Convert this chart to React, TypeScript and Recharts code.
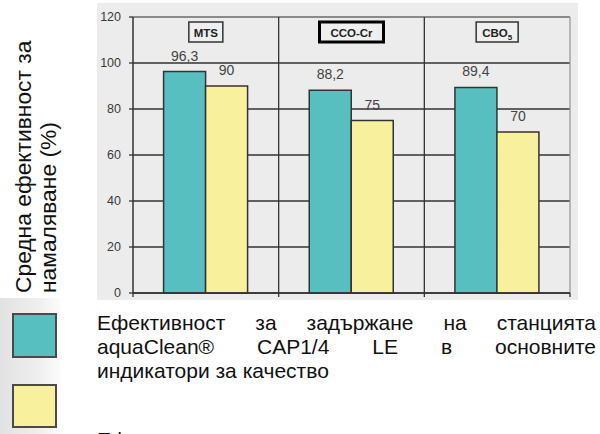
import React from 'react';
import {
  BarChart,
  Bar,
  XAxis,
  YAxis,
  CartesianGrid,
  LabelList,
  ReferenceLine,
} from 'recharts';

// values
const categories = ['MTS', 'CCO-Cr', 'CBO5'];
const stationValues = [96.3, 88.2, 89.4];
const standardValues = [90, 75, 70];
const yTicks = [0, 20, 40, 60, 80, 100, 120];

const titleLines = ['Средна ефективност за', 'намаляване (%)'];
const legendStationLines = [
  'Ефективност за задържане на станцията',
  'aquaClean® CAP1/4 LE в основните',
  'индикатори за качество',
];
const legendStandardLines = ['Ефективност за пречистване според изискванията на УТВА'];

const data = categories.map((name, i) => ({
  name,
  station: stationValues[i],
  standard: standardValues[i],
}));

const TEAL = '#57bfbf';
const YELLOW = '#f8f09c';
const FONT = '"Liberation Sans", Arial, sans-serif';

const fmt = (v: any) => String(v).replace('.', ',');

// boxed category names at the top of each panel
const CategoryTick = (props: any) => {
  const { x, y, payload } = props;
  const name: string = payload.value;
  const strong = name === 'CCO-Cr';
  const w = name === 'MTS' ? 34 : name === 'CCO-Cr' ? 64 : 42;
  return (
    <g>
      <rect
        x={x - w / 2}
        y={y + 5}
        width={w}
        height={20}
        fill='#efefef'
        stroke={strong ? '#000' : '#333'}
        strokeWidth={strong ? 3 : 1.5}
      />
      <text
        x={x}
        y={y + 19.5}
        textAnchor='middle'
        fontSize={11.5}
        fontWeight='bold'
        fill='#222'
        fontFamily={FONT}
      >
        {name === 'CBO5' ? (
          <>
            CBO<tspan fontSize={8} dy={3}>5</tspan>
          </>
        ) : (
          name
        )}
      </text>
    </g>
  );
};

// tick marks sit on the category borders, not the centres
const BoundaryTick = (props: any) => {
  const { x, y, payload, index, visibleTicksCount } = props;
  const half = payload && payload.offset ? payload.offset : 0;
  const last = index === visibleTicksCount - 1;
  return (
    <g stroke='#333' strokeWidth={1.3}>
      <line x1={x - half} x2={x - half} y1={y} y2={y + 4} />
      {last && <line x1={x + half} x2={x + half} y1={y} y2={y + 4} />}
    </g>
  );
};

const justified = (last: boolean): React.CSSProperties => ({
  textAlign: last ? 'left' : 'justify',
  textAlignLast: last ? 'left' : 'justify',
  whiteSpace: 'nowrap',
});

export default function App() {
  return (
    <div
      style={{
        position: 'absolute',
        left: 0,
        top: 0,
        width: 600,
        height: 434,
        overflow: 'hidden',
        background: '#fff',
        fontFamily: FONT,
        color: '#111',
      }}
    >
      <div
        style={{
          position: 'absolute',
          left: 11,
          top: 293,
          width: 270,
          fontSize: 22.8,
          lineHeight: '25px',
          transform: 'rotate(-90deg)',
          transformOrigin: '0 0',
          whiteSpace: 'nowrap',
        }}
      >
        {titleLines.map((t) => (
          <div key={t}>{t}</div>
        ))}
      </div>

      <div style={{ position: 'absolute', left: 97, top: 3, background: '#ececec' }}>
        <BarChart
          width={481}
          height={297}
          data={data}
          margin={{ top: 13, right: 8, left: 0, bottom: 0 }}
          barGap={0}
          barCategoryGap='21%'
        >
          <CartesianGrid vertical={false} stroke='#333' strokeWidth={1.3} />
          <XAxis
            dataKey='name'
            height={7}
            interval={0}
            tickLine={false}
            tickSize={0}
            tickMargin={0}
            axisLine={{ stroke: '#333', strokeWidth: 1.5 }}
            tick={<BoundaryTick />}
          />
          <XAxis
            xAxisId='top'
            dataKey='name'
            orientation='top'
            height={1}
            axisLine={false}
            tickLine={false}
            tickSize={0}
            tickMargin={0}
            interval={0}
            tick={<CategoryTick />}
          />
          <YAxis
            domain={[0, 120]}
            ticks={yTicks}
            interval={0}
            width={36}
            tickSize={4}
            tickMargin={8}
            axisLine={{ stroke: '#333', strokeWidth: 1.5 }}
            tickLine={{ stroke: '#333', strokeWidth: 1.3 }}
            tick={{ fill: '#3a3a3a', fontSize: 12.5, fontFamily: FONT }}
          />
          <ReferenceLine y={120} stroke='#999' strokeWidth={1.3} />
          {categories.map((c, i) => (
            <ReferenceLine
              key={c}
              x={c}
              position='end'
              stroke={i === categories.length - 1 ? '#999' : '#333'}
              strokeWidth={1.3}
            />
          ))}
          <Bar
            dataKey='station'
            fill={TEAL}
            stroke='#333'
            strokeWidth={1.5}
            isAnimationActive={false}
          >
            <LabelList
              dataKey='station'
              position='top'
              offset={11}
              formatter={fmt}
              fill='#444'
              fontSize={14}
              fontFamily={FONT}
            />
          </Bar>
          <Bar
            dataKey='standard'
            fill={YELLOW}
            stroke='#333'
            strokeWidth={1.5}
            isAnimationActive={false}
          >
            <LabelList
              dataKey='standard'
              position='top'
              offset={11}
              formatter={fmt}
              fill='#444'
              fontSize={14}
              fontFamily={FONT}
            />
          </Bar>
        </BarChart>
      </div>

      <div
        style={{
          position: 'absolute',
          left: 0,
          top: 298,
          width: 64,
          height: 136,
          background: 'linear-gradient(to right, #e2e2e2, #f0f0f0 65%, #ffffff)',
        }}
      />
      <div
        style={{
          position: 'absolute',
          left: 12,
          top: 313,
          width: 41,
          height: 41,
          background: TEAL,
          border: '2px solid #4a4a4a',
        }}
      />
      <div
        style={{
          position: 'absolute',
          left: 12,
          top: 384,
          width: 41,
          height: 40,
          background: YELLOW,
          border: '2px solid #4a4a4a',
        }}
      />

      <div
        style={{
          position: 'absolute',
          left: 97,
          top: 311,
          width: 499,
          fontSize: 21,
          lineHeight: '24px',
        }}
      >
        {legendStationLines.map((t, i) => (
          <div key={t} style={justified(i === legendStationLines.length - 1)}>
            {t}
          </div>
        ))}
      </div>
      <div
        style={{
          position: 'absolute',
          left: 97,
          top: 428,
          width: 499,
          fontSize: 21,
          lineHeight: '24px',
        }}
      >
        {legendStandardLines.map((t) => (
          <div key={t} style={justified(false)}>
            {t}
          </div>
        ))}
      </div>
    </div>
  );
}
